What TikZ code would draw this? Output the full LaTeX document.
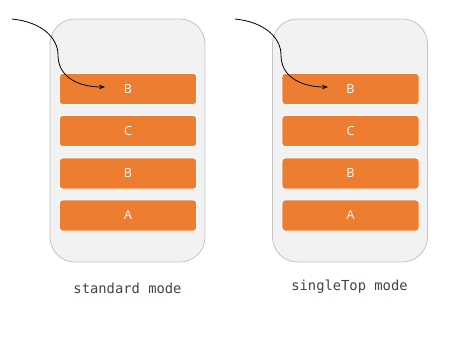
\documentclass[tikz,border=0pt]{standalone}
\usepackage{fontspec}
\setsansfont{Open Sans}
\setmonofont{DejaVu Sans Mono}
\usetikzlibrary{arrows.meta}
\definecolor{boxfill}{HTML}{F2F2F2}
\definecolor{boxline}{HTML}{C4C4C4}
\definecolor{bar}{HTML}{ED7D31}
\definecolor{labelc}{HTML}{3F4448}
\tikzset{
  container/.style={draw=boxline, fill=boxfill, line width=0.8pt, rounded corners=25pt, minimum width=155pt, minimum height=243pt, inner sep=0pt},
  bar/.style={draw=white, line width=0.8pt, fill=bar, rounded corners=3pt, minimum width=137pt, minimum height=31pt, inner sep=0pt, text=white, font=\sffamily\fontsize{12.5}{12.5}\selectfont},
  modelabel/.style={text=labelc, font=\ttfamily\fontsize{13.8}{13.8}\selectfont, inner sep=0pt},
  arr/.style={line width=0.8pt, -{Stealth[length=6pt,width=4.5pt]}}
}
\begin{document}
\begin{tikzpicture}[x=1pt,y=-1pt]
\useasboundingbox (0,0) rectangle (469,338);
% left
\node[container] (L) at (127.5,140.5) {};
\node[bar] (L1) at (128,89) {B};
\node[bar] (L2) at (128,131) {C};
\node[bar] (L3) at (128,173.5) {B};
\node[bar] (L4) at (128,215.5) {A};
\node[modelabel] (Llab) at (127.5,288) {standard mode};
\coordinate (Ls) at (12,19);
\coordinate (Le) at (105,87);
\draw[arr] (Ls) .. controls (42,22) and (58,38) .. (58,55) .. controls (58,78) and (80,87) .. (Le);
% right
\node[container] (R) at (350,140.5) {};
\node[bar] (R1) at (350.5,89) {B};
\node[bar] (R2) at (350.5,131) {C};
\node[bar] (R3) at (350.5,173.5) {B};
\node[bar] (R4) at (350.5,215.5) {A};
\node[modelabel] (Rlab) at (349.5,287) {singleTop mode};
\coordinate (Rs) at (235,19);
\coordinate (Re) at (328,87);
\draw[arr] (Rs) .. controls (265,22) and (281,38) .. (281,55) .. controls (281,78) and (303,87) .. (Re);
\end{tikzpicture}
\end{document}
